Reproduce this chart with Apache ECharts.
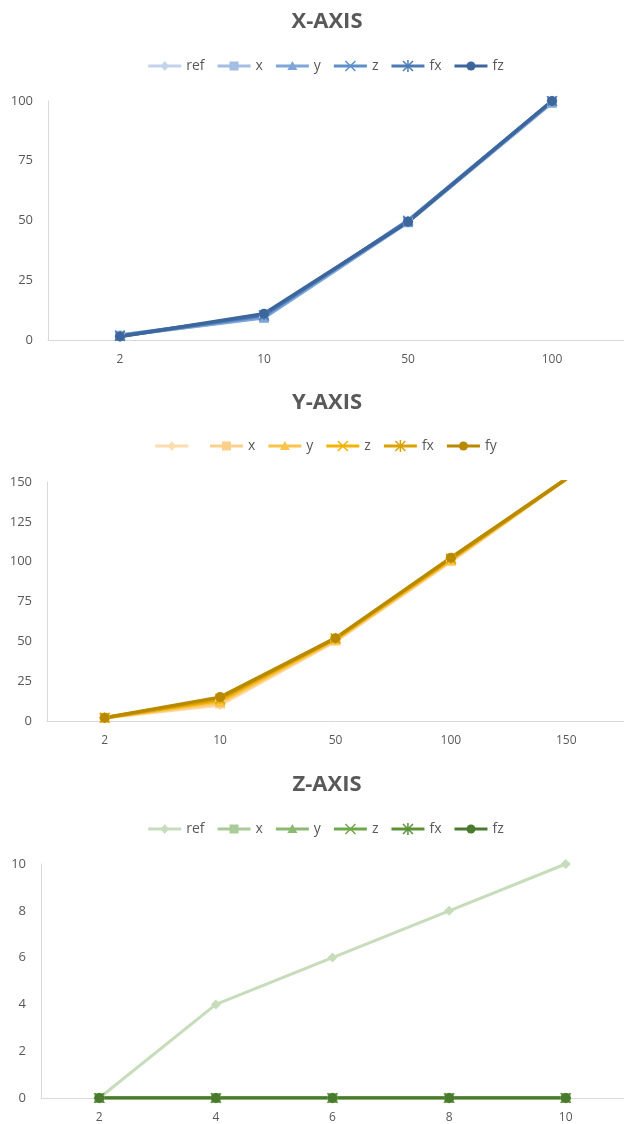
<!DOCTYPE html>
<html>
<head>
<meta charset="utf-8">
<style>
  html, body { margin: 0; padding: 0; background: #ffffff; }
  #main { width: 624px; height: 1124px; }
</style>
<script src="https://cdn.jsdelivr.net/npm/echarts@6/dist/echarts.min.js"></script>
</head>
<body>
<div id="main"></div>
<script>
// ---- X-AXIS panel ----
const xCategories = ['2', '10', '50', '100'];
const xRef = [2, 10, 50, 100];
const xX   = [1.8, 9.5, 49.5, 99.5];
const xY   = [1.8, 9.3, 49.3, 99.3];
const xZ   = [2, 10, 50, 100];
const xFx  = [1.6, 10.5, 49.6, 100];
const xFz  = [1.5, 11, 49.5, 100];

// ---- Y-AXIS panel ----
const yCategories = ['2', '10', '50', '100', '150'];
const yRef = [2, 10, 50, 100, 152];
const yX   = [2, 11, 50.5, 100.5, 152];
const yY   = [2, 12, 51, 101, 152];
const yZ   = [2, 13, 51.5, 101.5, 152];
const yFx  = [2, 14, 52, 102, 152];
const yFy  = [2, 15, 52, 102.5, 152];

// ---- Z-AXIS panel ----
const zCategories = ['2', '4', '6', '8', '10'];
const zRef = [0, 4, 6, 8, 10];
const zX   = [0, 0, 0, 0, 0];
const zY   = [0, 0, 0, 0, 0];
const zZ   = [0, 0, 0, 0, 0];
const zFx  = [0, 0, 0, 0, 0];
const zFz  = [0, 0, 0, 0, 0];

// Tick settings for the value axes
const xAxisTicks = { min: 0, max: 100, interval: 25 };
const yAxisTicks = { min: 0, max: 150, interval: 25 };
const zAxisTicks = { min: 0, max: 10, interval: 2 };

const FONT = 'Open Sans';
const TEXT = '#595959';
const AXIS = '#d9d9d9';

// Marker shapes: diamond, square, triangle, cross, asterisk, dot
const CROSS = 'path://M0,1.5L1.5,0L10,8.5L18.5,0L20,1.5L11.5,10L20,18.5L18.5,20L10,11.5L1.5,20L0,18.5L8.5,10Z';
const STAR = 'path://M0,1.5L1.5,0L9.2,7.7L9.2,0L10.8,0L10.8,7.7L18.5,0L20,1.5L12.3,9.2L20,9.2L20,10.8L12.3,10.8L20,18.5L18.5,20L10.8,12.3L10.8,20L9.2,20L9.2,12.3L1.5,20L0,18.5L7.7,10.8L0,10.8L0,9.2L7.7,9.2Z';
const SYMBOLS = ['diamond', 'rect', 'triangle', CROSS, STAR, 'circle'];

const blues  = ['#c3d3eb', '#a4bee3', '#80a6d8', '#5e8fcc', '#4c7cb8', '#3d669c'];
const golds  = ['#fddcae', '#fccf8a', '#fac34c', '#f2b400', '#daa200', '#b98a00'];
const greens = ['#c6dcbb', '#a9cb9a', '#8bba73', '#6fa84a', '#5c913a', '#4a7a2e'];

function makeSeries(names, arrays, colors, gridIndex, width) {
  return names.map((name, i) => ({
    type: 'line',
    name: name,
    xAxisIndex: gridIndex,
    yAxisIndex: gridIndex,
    data: arrays[i],
    symbol: SYMBOLS[i],
    symbolSize: 10,
    showAllSymbol: true,
    clip: true,
    color: colors[i],
    lineStyle: { width: width, color: colors[i] },
    itemStyle: { color: colors[i], borderColor: colors[i], borderWidth: i === 3 || i === 4 ? 0.5 : 0 },
    emphasis: { disabled: true }
  }));
}

const xNames = ['ref', 'x', 'y', 'z', 'fx', 'fz'];
const yNames = [' ', 'x', 'y', 'z', 'fx', 'fy'];
const zNames = ['ref', 'x', 'y', 'z', 'fx', 'fz'];

const grids = [
  { left: 48, top: 101, width: 580, height: 239 },
  { left: 47, top: 482, width: 584, height: 239 },
  { left: 41, top: 864, width: 587, height: 238 }
];

function catAxis(idx, data) {
  return {
    type: 'category', gridIndex: idx, data: data, boundaryGap: true,
    axisLine: { show: true, lineStyle: { color: AXIS, width: 1 } },
    axisTick: { show: false },
    axisLabel: { color: TEXT, fontFamily: FONT, fontSize: 12, margin: 14 },
    splitLine: { show: false }
  };
}
function valAxis(idx, t) {
  return {
    type: 'value', gridIndex: idx, min: t.min, max: t.max, interval: t.interval,
    axisLine: { show: true, lineStyle: { color: AXIS, width: 1 } },
    axisTick: { show: false },
    axisLabel: { color: TEXT, fontFamily: FONT, fontSize: 13, margin: 15 },
    splitLine: { show: false }
  };
}

const allSeries = []
  .concat(makeSeries(xNames, [xRef, xX, xY, xZ, xFx, xFz], blues, 0, 3.5))
  .concat(makeSeries(yNames, [yRef, yX, yY, yZ, yFx, yFy], golds, 1, 3.5))
  .concat(makeSeries(zNames, [zRef, zX, zY, zZ, zFx, zFz], greens, 2, 3));

const chart = echarts.init(document.getElementById('main'), null, { renderer: 'canvas' });
chart.setOption({
  backgroundColor: '#ffffff',
  animation: false,
  title: [
    { text: 'X-AXIS', left: 322, top: 6, textAlign: 'center',
      textStyle: { color: TEXT, fontFamily: FONT, fontSize: 22, fontWeight: 'bold' } },
    { text: 'Y-AXIS', left: 322, top: 387, textAlign: 'center',
      textStyle: { color: TEXT, fontFamily: FONT, fontSize: 22, fontWeight: 'bold' } },
    { text: 'Z-AXIS', left: 322, top: 769, textAlign: 'center',
      textStyle: { color: TEXT, fontFamily: FONT, fontSize: 22, fontWeight: 'bold' } }
  ],
  grid: grids,
  xAxis: [catAxis(0, xCategories), catAxis(1, yCategories), catAxis(2, zCategories)],
  yAxis: [valAxis(0, xAxisTicks), valAxis(1, yAxisTicks), valAxis(2, zAxisTicks)],
  series: allSeries
});

// Legend rows drawn as graphic groups so panels that share series names
// keep their own colours.
function legendRow(y, names, colors) {
  const items = [];
  const iconW = 33, gap = 13, textGap = 5;
  const font = '14px "' + FONT + '"';
  const ctx = document.createElement('canvas').getContext('2d');
  ctx.font = font;
  const widths = names.map(n => iconW + textGap + ctx.measureText(n).width);
  const total = widths.reduce((a, b) => a + b, 0) + gap * (names.length - 1);
  let x = 326 - total / 2;
  names.forEach((n, i) => {
    const c = colors[i];
    const sym = SYMBOLS[i];
    items.push({ type: 'line', shape: { x1: x, y1: y, x2: x + iconW, y2: y },
      style: { stroke: c, lineWidth: 3 }, silent: true });
    let symEl;
    const cx = x + iconW / 2;
    if (sym === 'circle') {
      symEl = { type: 'circle', shape: { cx: cx, cy: y, r: 4.5 }, style: { fill: c } };
    } else if (sym === 'rect') {
      symEl = { type: 'rect', shape: { x: cx - 4.5, y: y - 4.5, width: 9, height: 9 }, style: { fill: c } };
    } else if (sym === 'diamond') {
      symEl = { type: 'polygon', shape: { points: [[cx, y - 5], [cx + 4, y], [cx, y + 5], [cx - 4, y]] }, style: { fill: c } };
    } else if (sym === 'triangle') {
      symEl = { type: 'polygon', shape: { points: [[cx, y - 5], [cx + 5, y + 4], [cx - 5, y + 4]] }, style: { fill: c } };
    } else if (sym === CROSS) {
      symEl = { type: 'group', children: [
        { type: 'line', shape: { x1: cx - 5, y1: y - 5, x2: cx + 5, y2: y + 5 }, style: { stroke: c, lineWidth: 1.5 } },
        { type: 'line', shape: { x1: cx - 5, y1: y + 5, x2: cx + 5, y2: y - 5 }, style: { stroke: c, lineWidth: 1.5 } }
      ] };
    } else {
      symEl = { type: 'group', children: [
        { type: 'line', shape: { x1: cx - 5, y1: y - 5, x2: cx + 5, y2: y + 5 }, style: { stroke: c, lineWidth: 1.5 } },
        { type: 'line', shape: { x1: cx - 5, y1: y + 5, x2: cx + 5, y2: y - 5 }, style: { stroke: c, lineWidth: 1.5 } },
        { type: 'line', shape: { x1: cx, y1: y - 6, x2: cx, y2: y + 6 }, style: { stroke: c, lineWidth: 1.5 } }
      ] };
    }
    items.push(symEl);
    items.push({ type: 'text', x: x + iconW + textGap, y: y,
      style: { text: n, fill: TEXT, font: font, verticalAlign: 'middle', align: 'left' } });
    x += widths[i] + gap;
  });
  return { type: 'group', silent: true, children: items };
}

chart.setOption({
  graphic: [
    legendRow(66, xNames, blues),
    legendRow(446, yNames, golds),
    legendRow(829, zNames, greens)
  ]
});
</script>
</body>
</html>
